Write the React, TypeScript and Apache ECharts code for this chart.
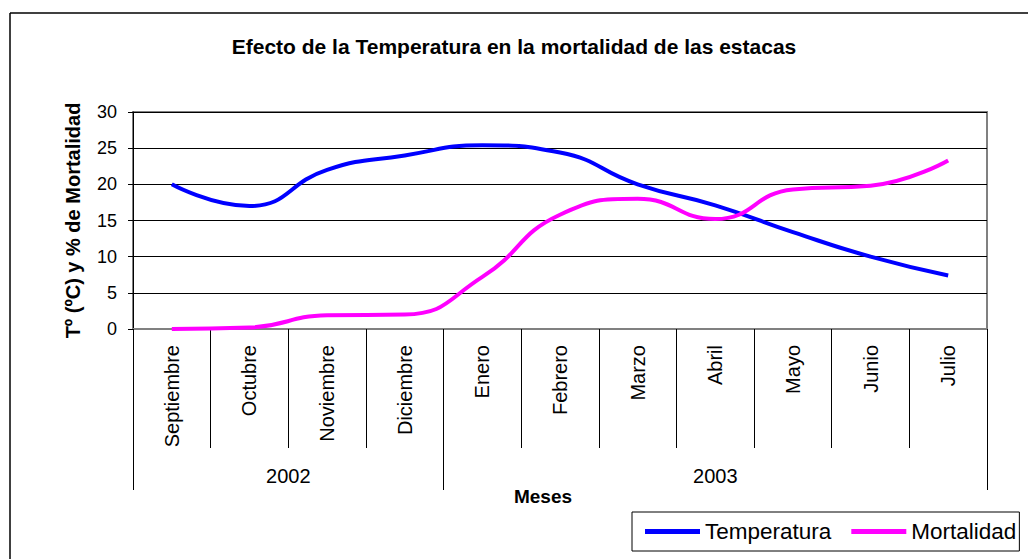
import React, { useEffect, useRef } from "react";
import * as echarts from "echarts";

const FONT = "Arial, 'Liberation Sans', sans-serif";

const titleText = "Efecto de la Temperatura en la mortalidad de las estacas";
const yAxisName = "Tº (ºC) y % de Mortalidad";
const xAxisName = "Meses";

const months = [
  "Septiembre", "Octubre", "Noviembre", "Diciembre", "Enero", "Febrero",
  "Marzo", "Abril", "Mayo", "Junio", "Julio",
];
const years = ["2002", "2003"];
const monthsPerYear = [4, 7];

const temperatura = [20, 17, 22, 24, 25.4, 24.4, 20, 17.1, 13.4, 10, 7.4];
const mortalidad = [0, 0.2, 1.9, 2.0, 7.2, 15.8, 18, 15.2, 19.3, 19.8, 23.3];

const yTicks = { min: 0, max: 30, interval: 5 };

const totalSlots = months.length * 2 + 1;
const yearSlots: string[] = new Array(totalSlots).fill("");
const yearBoundaries: number[] = [0];
const yearCenters: number[] = [];
{
  let start = 0;
  years.forEach((y, i) => {
    const center = start + monthsPerYear[i];
    yearSlots[center] = y;
    yearCenters.push(center);
    start += monthsPerYear[i] * 2;
    yearBoundaries.push(start);
  });
}

export default function App() {
  const ref = useRef<HTMLDivElement>(null);
  useEffect(() => {
    if (!ref.current) return;
    const chart = echarts.init(ref.current, null, { renderer: "svg" });
    chart.setOption({
      animation: false,
      backgroundColor: "#fff",
      textStyle: { fontFamily: FONT, color: "#000" },
      title: {
        text: titleText,
        left: "center",
        top: 36,
        padding: 0,
        textStyle: { fontSize: 21, fontWeight: "bold", color: "#000", fontFamily: FONT },
      },
      graphic: [
        {
          type: "line",
          shape: { x1: 10, y1: 13, x2: 1028, y2: 13 },
          style: { stroke: "#000", lineWidth: 1.5 },
          silent: true,
        },
        {
          type: "line",
          shape: { x1: 10, y1: 13, x2: 10, y2: 559 },
          style: { stroke: "#000", lineWidth: 1.5 },
          silent: true,
        },
      ],
      legend: {
        left: 632,
        top: 512,
        padding: [8, 3, 8, 13],
        borderColor: "#000",
        borderWidth: 1,
        itemWidth: 55,
        itemHeight: 5,
        itemGap: 20,
        icon: "rect",
        textStyle: { fontSize: 22.5, color: "#000", fontFamily: FONT },
        data: ["Temperatura", "Mortalidad"],
      },
      grid: {
        left: 133,
        right: 41,
        top: 112,
        bottom: 230,
        show: true,
        borderColor: "#808080",
        borderWidth: 2,
        backgroundColor: "transparent",
      },
      xAxis: [
        {
          type: "category",
          data: months,
          boundaryGap: true,
          position: "bottom",
          axisLine: { show: true, lineStyle: { color: "#808080", width: 2 } },
          axisTick: { show: true, interval: 0, length: 119, lineStyle: { color: "#000", width: 1 } },
          axisLabel: { interval: 0, rotate: 90, margin: 16, fontSize: 20, color: "#000", fontFamily: FONT },
          splitLine: { show: false },
        },
        {
          type: "category",
          data: yearSlots,
          boundaryGap: false,
          position: "bottom",
          axisLine: { show: false },
          axisTick: {
            show: true,
            interval: (i: number) => yearBoundaries.includes(i),
            length: 161,
            lineStyle: { color: "#000", width: 1 },
          },
          axisLabel: {
            interval: (i: number) => yearCenters.includes(i),
            margin: 137,
            fontSize: 20,
            color: "#000",
            fontFamily: FONT,
          },
          splitLine: { show: false },
          name: xAxisName,
          nameLocation: "middle",
          nameGap: 157,
          nameTextStyle: { fontSize: 19, fontWeight: "bold", color: "#000", fontFamily: FONT, padding: [0, 34, 0, 0] },
        },
      ],
      yAxis: {
        type: "value",
        min: yTicks.min,
        max: yTicks.max,
        interval: yTicks.interval,
        axisLine: { show: true, lineStyle: { color: "#000", width: 1 } },
        axisTick: { show: true, length: 5, lineStyle: { color: "#000" } },
        axisLabel: { margin: 16, fontSize: 18, color: "#000", fontFamily: FONT },
        splitLine: { show: true, lineStyle: { color: "#000", width: 1 } },
        name: yAxisName,
        nameLocation: "middle",
        nameRotate: 90,
        nameGap: 50,
        nameTextStyle: { fontSize: 20, fontWeight: "bold", color: "#000", fontFamily: FONT },
      },
      series: [
        {
          name: "Temperatura",
          type: "line",
          xAxisIndex: 0,
          data: temperatura,
          smooth: 0.5,
          showSymbol: false,
          color: "#0000FF",
          lineStyle: { color: "#0000FF", width: 4 },
        },
        {
          name: "Mortalidad",
          type: "line",
          xAxisIndex: 0,
          data: mortalidad,
          smooth: 0.5,
          showSymbol: false,
          color: "#FF00FF",
          lineStyle: { color: "#FF00FF", width: 4 },
        },
      ],
    });
    return () => chart.dispose();
  }, []);
  return (
    <div
      ref={ref}
      style={{ position: "fixed", left: 0, top: 0, width: 1028, height: 559 }}
    />
  );
}
